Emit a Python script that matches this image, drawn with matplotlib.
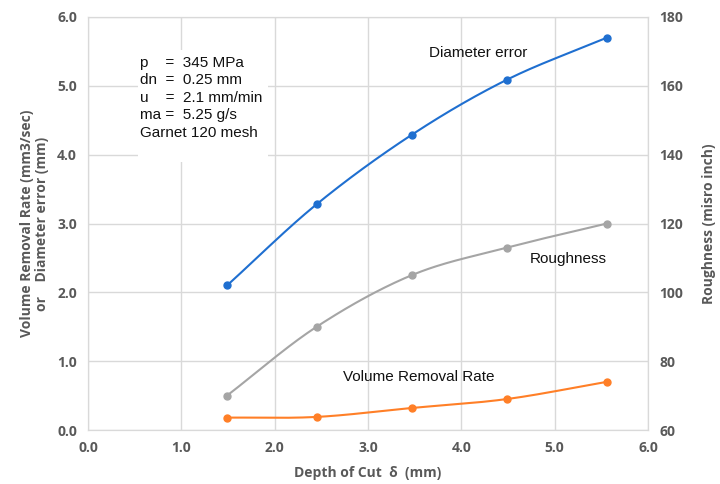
import numpy as np
import matplotlib
matplotlib.use("Agg")
import matplotlib.pyplot as plt
from matplotlib.patches import Rectangle

# Depth of cut (mm)
depth = [1.49, 2.45, 3.47, 4.49, 5.56]
# Diameter error (mm) - left axis
diameter_error = [2.10, 3.28, 4.29, 5.09, 5.70]
# Volume removal rate (mm3/sec) - left axis
volume_rate = [0.18, 0.19, 0.32, 0.45, 0.70]
# Surface roughness (micro inch) - right axis
roughness = [70, 90, 105, 113, 120]

x_ticks = [0.0, 1.0, 2.0, 3.0, 4.0, 5.0, 6.0]
y_left_ticks = [0.0, 1.0, 2.0, 3.0, 4.0, 5.0, 6.0]
y_right_ticks = [60, 80, 100, 120, 140, 160, 180]

params_text = ("p    =  345 MPa\n"
               "dn  =  0.25 mm\n"
               "u    =  2.1 mm/min\n"
               "ma =  5.25 g/s\n"
               "Garnet 120 mesh")

BLUE = "#1f6fd0"
ORANGE = "#ff7f27"
GRAY = "#a5a5a5"
TXT = "#595959"
GRID = "#d9d9d9"


def smooth(xs, ys, n=40):
    """Catmull-Rom curve through the points (spreadsheet-style smoothed line)."""
    xs = np.asarray(xs, float)
    ys = np.asarray(ys, float)
    px = np.concatenate([[2 * xs[0] - xs[1]], xs, [2 * xs[-1] - xs[-2]]])
    py = np.concatenate([[2 * ys[0] - ys[1]], ys, [2 * ys[-1] - ys[-2]]])
    outx, outy = [], []
    t = np.linspace(0, 1, n)
    for i in range(1, len(px) - 2):
        p0, p1, p2, p3 = (np.array([px[j], py[j]]) for j in range(i - 1, i + 3))
        tt = t[:, None]
        pts = 0.5 * ((2 * p1) + (-p0 + p2) * tt + (2 * p0 - 5 * p1 + 4 * p2 - p3) * tt ** 2
                     + (-p0 + 3 * p1 - 3 * p2 + p3) * tt ** 3)
        outx.extend(pts[:, 0])
        outy.extend(pts[:, 1])
    return np.array(outx), np.array(outy)


plt.rcParams["font.family"] = ["Open Sans", "DejaVu Sans"]

fig = plt.figure(figsize=(7.2, 4.84), dpi=100)
ax = fig.add_axes([88 / 720, 1 - 430 / 484, 560 / 720, 413 / 484])
ax2 = ax.twinx()

ax.set_xlim(0, 6)
ax.set_ylim(0, 6)
ax2.set_ylim(60, 180)

ax.set_xticks(x_ticks)
ax.set_yticks(y_left_ticks)
ax2.set_yticks(y_right_ticks)
ax.set_xticklabels([f"{v:.1f}" for v in x_ticks])
ax.set_yticklabels([f"{v:.1f}" for v in y_left_ticks])
ax2.set_yticklabels([str(v) for v in y_right_ticks])

ax.grid(True, color=GRID, linewidth=1.0)
ax.set_axisbelow(True)
for a in (ax, ax2):
    for s in a.spines.values():
        s.set_color(GRID)
    a.tick_params(length=0, labelsize=10, labelcolor=TXT, pad=8)
    for lbl in a.get_xticklabels() + a.get_yticklabels():
        lbl.set_fontweight("bold")

# curves
sx, sy = smooth(depth, diameter_error)
ax.plot(sx, sy, color=BLUE, lw=1.5, zorder=3)
ax.plot(depth, diameter_error, "o", color=BLUE, ms=5, zorder=4)

sx, sy = smooth(depth, volume_rate)
ax.plot(sx, sy, color=ORANGE, lw=1.5, zorder=3)
ax.plot(depth, volume_rate, "o", color=ORANGE, ms=5, zorder=4)

sx, sy = smooth(depth, roughness)
ax2.plot(sx, sy, color=GRAY, lw=1.5, zorder=3)
ax2.plot(depth, roughness, "o", color=GRAY, ms=5, zorder=4)

# series labels
ax.text(4.18, 5.48, "Diameter error", fontsize=11, color="#111111", ha="center", va="center",
        family=["Liberation Sans"])
ax.text(5.15, 2.49, "Roughness", fontsize=11, color="#111111", ha="center", va="center",
        family=["Liberation Sans"])
ax.text(3.54, 0.77, "Volume Removal Rate", fontsize=11, color="#111111", ha="center", va="center",
        family=["Liberation Sans"])

# process parameters on a white panel
ax.add_patch(Rectangle((0.54, 3.90), 1.39, 1.62, facecolor="white", edgecolor="none", zorder=2))
ax.text(0.56, 5.44, params_text, fontsize=11, color="#111111", ha="left", va="top",
        linespacing=1.32, family=["Liberation Sans"], zorder=5)

ax.set_xlabel("Depth of Cut  δ  (mm)", fontsize=10, fontweight="bold", color=TXT, labelpad=8)
ax.set_ylabel("Volume Removal Rate (mm3/sec)\nor    Diameter error (mm)", fontsize=10,
              fontweight="bold", color=TXT, labelpad=6, linespacing=1.1)
ax2.set_ylabel("Roughness (misro inch)", fontsize=10, fontweight="bold", color=TXT, labelpad=14)

fig.savefig("out.png", dpi=100, facecolor="white")
